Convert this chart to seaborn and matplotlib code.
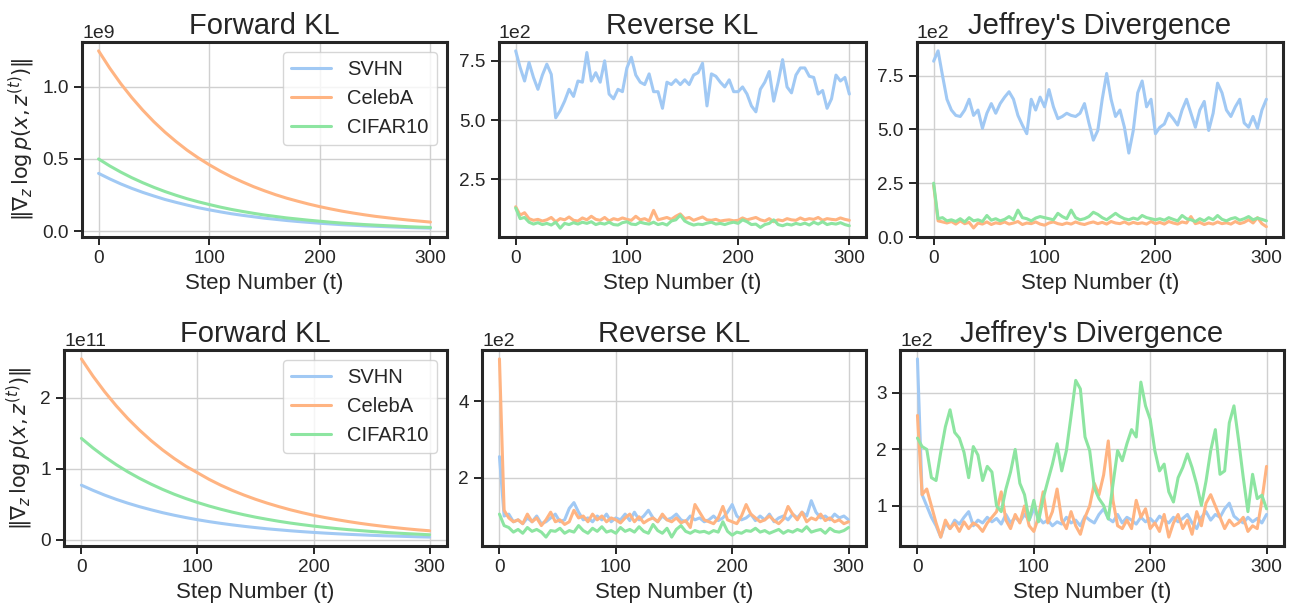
import numpy as np
import matplotlib
matplotlib.use("Agg")
import matplotlib.pyplot as plt
import seaborn as sns

sns.set_theme(style="ticks", palette="pastel", rc={"axes.grid": True})
plt.rcParams["font.family"] = ["Liberation Sans", "DejaVu Sans"]

DATASETS = ["SVHN", "CelebA", "CIFAR10"]
COLORS = sns.color_palette("pastel")[:3]

# x grids
FWD_STEPS = list(range(0, 301, 10))
NOISY_STEPS = list(range(0, 301, 4))

# ---- row 1 -------------------------------------------------------------
# Forward KL (x1e9)
fwd1_svhn = [0.40, 0.362, 0.327, 0.296, 0.268, 0.243, 0.219, 0.199, 0.180, 0.162,
             0.147, 0.133, 0.120, 0.109, 0.099, 0.089, 0.081, 0.073, 0.066, 0.060,
             0.054, 0.049, 0.044, 0.040, 0.036, 0.033, 0.030, 0.027, 0.024, 0.022, 0.020]
fwd1_celeba = [1.25, 1.131, 1.023, 0.926, 0.838, 0.758, 0.686, 0.621, 0.561, 0.508,
               0.460, 0.416, 0.376, 0.341, 0.308, 0.279, 0.252, 0.228, 0.207, 0.187,
               0.169, 0.153, 0.138, 0.125, 0.113, 0.102, 0.093, 0.084, 0.076, 0.069, 0.062]
fwd1_cifar = [0.50, 0.452, 0.409, 0.370, 0.335, 0.303, 0.274, 0.248, 0.224, 0.203,
              0.184, 0.166, 0.150, 0.136, 0.123, 0.111, 0.101, 0.091, 0.083, 0.075,
              0.068, 0.061, 0.055, 0.050, 0.045, 0.041, 0.037, 0.034, 0.030, 0.027, 0.025]

# Reverse KL (x1e2)
rev1_svhn = [7.92, 7.22, 6.65, 7.43, 6.8, 6.3, 6.9, 7.36, 6.93, 5.1,
             5.4, 5.8, 6.3, 6.0, 6.65, 6.6, 7.85, 6.65, 7.0, 6.6,
             7.5, 6.1, 5.9, 6.3, 6.2, 7.2, 7.65, 6.9, 6.6, 6.5,
             6.95, 6.2, 6.2, 5.5, 6.6, 6.5, 6.7, 6.5, 6.7, 6.5,
             6.9, 7.0, 7.4, 5.6, 6.95, 6.85, 6.6, 6.4, 6.7, 6.2,
             6.2, 6.4, 6.1, 5.6, 5.35, 6.3, 6.6, 7.05, 5.8, 6.6,
             7.55, 6.4, 6.15, 6.9, 7.2, 7.2, 6.85, 6.8, 6.1, 6.25,
             5.5, 5.9, 6.9, 6.65, 6.8, 6.1]
rev1_celeba = [1.35, 1.0, 1.1, 0.85, 0.78, 0.82, 0.75, 0.8, 0.9, 0.72,
               0.85, 0.8, 0.92, 0.78, 0.75, 0.88, 0.8, 0.95, 0.82, 0.78,
               0.9, 0.75, 0.85, 0.8, 0.88, 0.82, 0.78, 0.95, 0.8, 0.85,
               0.75, 1.2, 0.8, 0.85, 0.9, 0.82, 0.95, 1.05, 0.85, 0.9,
               0.78, 0.85, 0.92, 0.8, 0.78, 0.82, 0.75, 0.78, 0.8, 0.76,
               0.78, 0.88, 0.8, 0.85, 0.9, 0.8, 0.75, 0.85, 0.72, 0.8,
               0.76, 0.85, 0.8, 0.78, 0.88, 0.8, 0.85, 0.82, 0.9, 0.78,
               0.85, 0.82, 0.8, 0.88, 0.82, 0.78]
rev1_cifar = [1.3, 0.85, 0.9, 0.7, 0.62, 0.68, 0.6, 0.65, 0.58, 0.7,
              0.45, 0.65, 0.6, 0.68, 0.62, 0.7, 0.65, 0.72, 0.6, 0.66,
              0.62, 0.7, 0.6, 0.58, 0.68, 0.72, 0.62, 0.6, 0.7, 0.65,
              0.62, 0.7, 0.6, 0.65, 0.58, 0.75, 0.8, 1.0, 0.75, 0.65,
              0.58, 0.62, 0.6, 0.66, 0.7, 0.62, 0.65, 0.6, 0.66, 0.7,
              0.65, 0.8, 0.72, 0.6, 0.62, 0.48, 0.6, 0.65, 0.8, 0.6,
              0.55, 0.62, 0.58, 0.65, 0.6, 0.66, 0.58, 0.7, 0.62, 0.72,
              0.6, 0.65, 0.62, 0.68, 0.6, 0.55]

# Jeffrey's divergence (x1e2)
jef1_svhn = [8.17, 8.65, 7.5, 6.4, 5.9, 5.65, 5.6, 5.9, 6.4, 5.65,
             5.9, 5.05, 5.75, 6.2, 5.75, 6.2, 6.5, 6.75, 6.4, 5.65,
             5.2, 4.8, 6.4, 5.9, 6.5, 6.05, 6.85, 6.05, 5.5, 5.6,
             5.75, 5.65, 5.6, 5.75, 6.2, 5.3, 4.5, 4.95, 6.4, 7.6,
             6.4, 5.6, 5.9, 5.1, 3.9, 4.95, 6.7, 7.25, 6.05, 6.4,
             4.8, 5.1, 5.25, 5.75, 5.5, 5.2, 5.9, 6.4, 5.75, 5.1,
             5.9, 6.3, 4.95, 5.75, 7.15, 6.7, 5.9, 5.6, 6.05, 6.4,
             5.3, 5.1, 5.6, 5.05, 5.9, 6.4]
jef1_celeba = [2.4, 0.75, 0.7, 0.65, 0.72, 0.6, 0.75, 0.62, 0.68, 0.42,
               0.65, 0.6, 0.7, 0.58, 0.66, 0.62, 0.7, 0.6, 0.65, 0.72,
               0.58, 0.65, 0.62, 0.7, 0.6, 0.55, 0.65, 0.7, 0.62, 0.58,
               0.65, 0.6, 0.7, 0.62, 0.58, 0.65, 0.7, 0.62, 0.68, 0.6,
               0.72, 0.65, 0.62, 0.7, 0.6, 0.68, 0.62, 0.66, 0.6, 0.72,
               0.62, 0.68, 0.6, 0.72, 0.65, 0.6, 0.7, 0.65, 0.95, 0.62,
               0.68, 0.58, 0.65, 0.6, 0.7, 0.62, 0.66, 0.6, 0.72, 0.62,
               0.68, 0.8, 0.65, 0.9, 0.62, 0.48]
jef1_cifar = [2.5, 0.85, 0.9, 0.75, 0.8, 0.72, 0.85, 0.7, 0.9, 0.75,
              0.8, 0.72, 1.0, 0.78, 0.85, 0.75, 0.82, 0.95, 0.8, 1.25,
              0.9, 0.85, 0.75, 0.88, 0.95, 0.9, 0.85, 0.8, 1.1, 0.95,
              0.85, 1.25, 0.9, 0.8, 0.85, 0.95, 1.15, 1.05, 0.9, 0.8,
              0.95, 1.1, 0.95, 0.85, 0.8, 0.88, 0.82, 1.0, 0.9, 0.85,
              0.8, 0.85, 0.78, 0.9, 0.82, 0.75, 1.0, 0.85, 0.8, 0.72,
              0.85, 0.75, 0.9, 0.8, 1.0, 0.82, 0.75, 0.85, 0.9, 0.78,
              0.85, 0.95, 0.8, 0.88, 0.82, 0.75]

# ---- row 2 -------------------------------------------------------------
# Forward KL (x1e11)
fwd2_svhn = [0.77, 0.697, 0.630, 0.570, 0.516, 0.467, 0.423, 0.382, 0.346, 0.313,
             0.283, 0.256, 0.232, 0.210, 0.190, 0.172, 0.155, 0.141, 0.127, 0.115,
             0.104, 0.094, 0.085, 0.077, 0.070, 0.063, 0.057, 0.052, 0.047, 0.042, 0.038]
fwd2_celeba = [2.55, 2.307, 2.088, 1.889, 1.709, 1.547, 1.399, 1.266, 1.146, 1.037,
               0.945, 0.852, 0.770, 0.697, 0.631, 0.571, 0.517, 0.468, 0.423, 0.383,
               0.346, 0.313, 0.284, 0.257, 0.232, 0.210, 0.190, 0.172, 0.155, 0.140, 0.127]
fwd2_cifar = [1.43, 1.294, 1.171, 1.059, 0.958, 0.867, 0.785, 0.710, 0.642, 0.581,
              0.526, 0.476, 0.431, 0.390, 0.353, 0.319, 0.289, 0.261, 0.236, 0.214,
              0.193, 0.175, 0.158, 0.143, 0.130, 0.117, 0.106, 0.096, 0.087, 0.079, 0.071]

# Reverse KL (x1e2)
rev2_svhn = [2.55, 1.0, 1.05, 0.85, 0.9, 0.8, 0.95, 0.85, 1.0, 0.8,
             0.85, 0.95, 1.05, 0.85, 0.9, 1.2, 1.35, 1.1, 0.9, 0.95,
             0.85, 1.0, 0.9, 1.05, 0.85, 0.95, 0.9, 1.05, 0.88, 1.1,
             0.9, 1.0, 1.15, 0.95, 0.85, 1.0, 0.9, 0.95, 1.05, 0.9,
             0.85, 1.0, 0.9, 0.95, 0.85, 0.9, 1.0, 0.88, 0.95, 1.1,
             1.3, 1.0, 0.9, 0.95, 1.05, 0.88, 1.0, 0.9, 1.05, 0.85,
             0.95, 1.0, 0.9, 1.05, 0.95, 1.1, 1.0, 1.4, 1.1, 0.95,
             1.0, 0.9, 1.05, 0.95, 1.0, 0.9]
rev2_celeba = [5.1, 1.15, 0.95, 0.85, 0.9, 0.8, 1.05, 0.85, 0.95, 0.75,
               0.9, 1.1, 0.85, 0.9, 0.78, 0.85, 1.15, 0.95, 1.0, 0.85,
               1.05, 0.9, 1.0, 0.85, 0.95, 0.9, 0.82, 0.95, 1.05, 0.85,
               0.98, 0.82, 0.9, 0.95, 0.85, 1.05, 0.9, 0.85, 0.95, 0.82,
               0.88, 0.7, 1.3, 1.1, 0.9, 0.85, 0.8, 0.95, 1.25, 0.9,
               0.85, 0.8, 1.0, 1.3, 1.05, 0.95, 0.85, 0.9, 1.0, 0.88,
               0.8, 0.92, 1.25, 1.05, 0.9, 1.1, 0.85, 0.95, 0.9, 1.05,
               0.88, 0.95, 0.85, 0.9, 0.8, 0.85]
rev2_cifar = [1.05, 0.75, 0.7, 0.58, 0.65, 0.55, 0.7, 0.6, 0.65, 0.58,
              0.45, 0.62, 0.6, 0.68, 0.55, 0.62, 0.58, 0.75, 0.62, 0.55,
              0.68, 0.6, 0.72, 0.58, 0.62, 0.55, 0.7, 0.6, 0.65, 0.58,
              0.72, 0.6, 0.55, 0.78, 0.62, 0.55, 0.68, 0.45, 0.65, 0.75,
              0.6, 0.55, 0.62, 0.58, 0.6, 0.55, 0.62, 0.58, 0.85, 0.6,
              0.5, 0.58, 0.55, 0.62, 0.6, 0.68, 0.58, 0.62, 0.55, 0.6,
              0.65, 0.55, 0.62, 0.58, 0.65, 0.6, 0.72, 0.58, 0.62, 0.65,
              0.55, 0.68, 0.6, 0.58, 0.62, 0.7]

# Jeffrey's divergence (x1e2)
jef2_svhn = [3.6, 1.2, 1.0, 0.8, 0.65, 0.45, 0.7, 0.6, 0.75, 0.68,
             0.8, 0.9, 0.65, 0.75, 0.7, 0.8, 0.72, 0.78, 0.68, 0.85,
             0.7, 0.8, 0.72, 0.85, 0.75, 0.95, 0.8, 0.7, 0.75, 0.65,
             0.72, 0.68, 0.8, 0.7, 0.75, 0.65, 0.82, 0.75, 0.7, 0.85,
             0.95, 0.78, 0.72, 0.85, 0.7, 0.8, 0.75, 0.68, 0.8, 0.72,
             0.78, 0.7, 0.82, 0.75, 0.7, 0.8, 0.72, 0.78, 0.85, 0.7,
             0.6, 0.8, 0.9, 0.75, 0.85, 0.8, 0.95, 1.05, 0.82, 0.75,
             0.7, 0.8, 0.72, 0.78, 0.7, 0.85]
jef2_celeba = [2.6, 1.2, 1.3, 1.0, 0.7, 0.45, 0.75, 0.6, 0.7, 0.55,
               0.72, 0.6, 0.7, 0.65, 0.55, 0.7, 0.8, 0.9, 1.25, 0.75,
               0.6, 0.85, 0.7, 1.0, 0.65, 0.55, 0.8, 1.25, 0.7, 0.9,
               1.3, 0.75, 0.6, 0.9, 0.65, 0.5, 0.8, 1.0, 1.4, 1.2,
               1.55, 2.15, 1.1, 0.65, 0.6, 0.75, 0.6, 1.1, 0.8, 0.95,
               0.6, 0.7, 0.55, 0.85, 0.45, 0.7, 0.85, 0.6, 0.75, 0.5,
               0.9, 0.65, 1.05, 1.2, 1.0, 0.8, 0.6, 0.75, 0.65, 0.7,
               0.8, 0.55, 0.65, 0.6, 1.1, 1.7]
jef2_cifar = [2.2, 2.05, 2.0, 1.5, 1.45, 1.95, 2.4, 2.7, 2.3, 2.2,
              1.95, 1.5, 2.05, 1.9, 1.45, 1.7, 1.6, 1.0, 0.9, 1.3,
              1.6, 2.0, 1.4, 1.2, 0.75, 1.1, 0.72, 1.13, 1.44, 1.74,
              2.1, 1.62, 1.98, 2.59, 3.22, 3.07, 2.22, 1.98, 1.32, 1.13,
              1.01, 0.77, 1.38, 1.98, 1.8, 2.1, 2.35, 2.22, 3.19, 2.77,
              2.53, 1.98, 1.62, 1.74, 1.25, 1.07, 1.5, 1.68, 1.92, 1.68,
              1.38, 1.01, 1.44, 1.98, 2.35, 1.56, 1.62, 2.47, 2.77, 2.16,
              1.5, 0.9, 1.56, 1.13, 1.19, 0.95]

W, H = 1294, 610


def box(left, top, right, bottom):
    # pixel box -> figure fraction
    return [left / W, 1 - bottom / H, (right - left) / W, (bottom - top) / H]


panels = [
    (box(82, 42, 447, 237), FWD_STEPS, [fwd1_svhn, fwd1_celeba, fwd1_cifar], 1e9,
     "Forward KL", [0, 0.5e9, 1.0e9], True),
    (box(499, 42, 866, 237), NOISY_STEPS, [rev1_svhn, rev1_celeba, rev1_cifar], 1e2,
     "Reverse KL", [250, 500, 750], False),
    (box(917, 42, 1283, 237), NOISY_STEPS, [jef1_svhn, jef1_celeba, jef1_cifar], 1e2,
     "Jeffrey's Divergence", [0, 250, 500, 750], False),
    (box(64, 350, 447, 546), FWD_STEPS, [fwd2_svhn, fwd2_celeba, fwd2_cifar], 1e11,
     "Forward KL", [0, 1e11, 2e11], True),
    (box(482, 350, 866, 546), NOISY_STEPS, [rev2_svhn, rev2_celeba, rev2_cifar], 1e2,
     "Reverse KL", [200, 400], False),
    (box(900, 350, 1284, 546), NOISY_STEPS, [jef2_svhn, jef2_celeba, jef2_cifar], 1e2,
     "Jeffrey's Divergence", [100, 200, 300], False),
]

fig = plt.figure(figsize=(W / 100, H / 100), dpi=100)

for pos, steps, series, scale, title, yticks, first in panels:
    ax = fig.add_axes(pos)
    for name, vals, col in zip(DATASETS, series, COLORS):
        sns.lineplot(x=steps, y=np.array(vals) * scale, color=col, linewidth=2.2,
                     label=name, ax=ax, legend=False)
    ax.set_xticks([0, 100, 200, 300])
    ax.set_yticks(yticks)
    ax.ticklabel_format(axis="y", style="sci", scilimits=(0, 0))
    ax.yaxis.get_offset_text().set_fontsize(14)
    ax.tick_params(labelsize=13.7, length=6, width=1.4, color="#262626")
    ax.grid(True, color="#d0d0d0", linewidth=1.0)
    for s in ax.spines.values():
        s.set_linewidth(2.2)
        s.set_color("#262626")
    ax.set_title(title, fontsize=21)
    ax.set_xlabel("Step Number (t)", fontsize=16)
    if first:
        ax.set_ylabel(r"$\|\nabla_z\, \log p(x, z^{(t)})\|$", fontsize=15)
        ax.legend(loc="upper right", fontsize=14.5)
    else:
        ax.set_ylabel("")
        leg = ax.get_legend()
        if leg is not None:
            leg.remove()

fig.savefig("out.png", dpi=100)
